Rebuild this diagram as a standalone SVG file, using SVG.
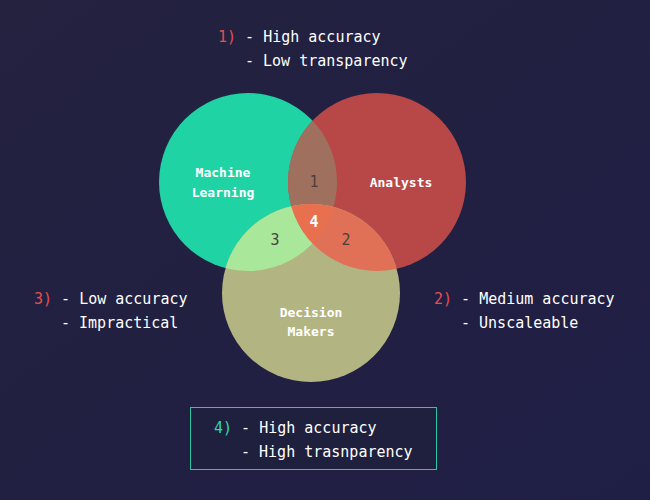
<svg xmlns="http://www.w3.org/2000/svg" width="650" height="500" viewBox="0 0 650 500">
<defs>
<linearGradient id="bg" x1="0" y1="0" x2="1" y2="1"><stop offset="0" stop-color="#24223f"/><stop offset="1" stop-color="#1f1e45"/></linearGradient>
<clipPath id="cML"><circle cx="248" cy="182" r="89"/></clipPath>
<clipPath id="cA"><circle cx="377" cy="182" r="89"/></clipPath>
<clipPath id="cDMml"><circle cx="311" cy="293" r="89" clip-path="url(#cML)"/></clipPath>
<style>
text{font-family:"DejaVu Sans Mono","Liberation Mono",monospace;font-size:15px;fill:#ffffff}
.lbl{font-size:13px;font-weight:bold;text-anchor:middle}
.num{font-size:15px;fill:#4a4040;text-anchor:middle}
.r{fill:#e45050}.t{fill:#2ed8b0}
</style>
</defs>
<rect width="650" height="500" fill="url(#bg)"/>
<g id="venn">
<g id="ml"><circle cx="248" cy="182" r="89" fill="#1fd3a5"/></g>
<g id="analysts"><circle cx="377" cy="182" r="89" fill="#b84848"/></g>
<g id="dm"><circle cx="311" cy="293" r="89" fill="#b2b582"/></g>
<circle cx="377" cy="182" r="89" fill="#a0705e" clip-path="url(#cML)"/>
<circle cx="311" cy="293" r="89" fill="#a9e79a" clip-path="url(#cML)"/>
<circle cx="311" cy="293" r="89" fill="#e07156" clip-path="url(#cA)"/>
<circle cx="377" cy="182" r="89" fill="#e8704f" clip-path="url(#cDMml)"/>
<text class="lbl" x="223" y="177">Machine</text>
<text class="lbl" x="223" y="197">Learning</text>
<text class="lbl" x="401" y="187">Analysts</text>
<text class="lbl" x="311" y="317">Decision</text>
<text class="lbl" x="311" y="336">Makers</text>
<text class="num" x="314" y="187">1</text>
<text class="num" x="346" y="245">2</text>
<text class="num" x="275" y="245">3</text>
<text class="num" x="314" y="227" style="fill:#fff;font-weight:bold">4</text>
</g>
<g id="notes">
<text x="218" y="42"><tspan class="r">1)</tspan> - High accuracy</text>
<text x="245" y="66">- Low transparency</text>
<text x="34" y="304"><tspan class="r">3)</tspan> - Low accuracy</text>
<text x="61" y="328">- Impractical</text>
<text x="434" y="304"><tspan class="r">2)</tspan> - Medium accuracy</text>
<text x="461" y="328">- Unscaleable</text>
<rect x="190.5" y="407.5" width="246" height="62" fill="#1f1f3e" stroke="#2ec7a5" stroke-width="1"/>
<text x="214" y="433"><tspan class="t">4)</tspan> - High accuracy</text>
<text x="241" y="457">- High trasnparency</text>
</g>
</svg>
